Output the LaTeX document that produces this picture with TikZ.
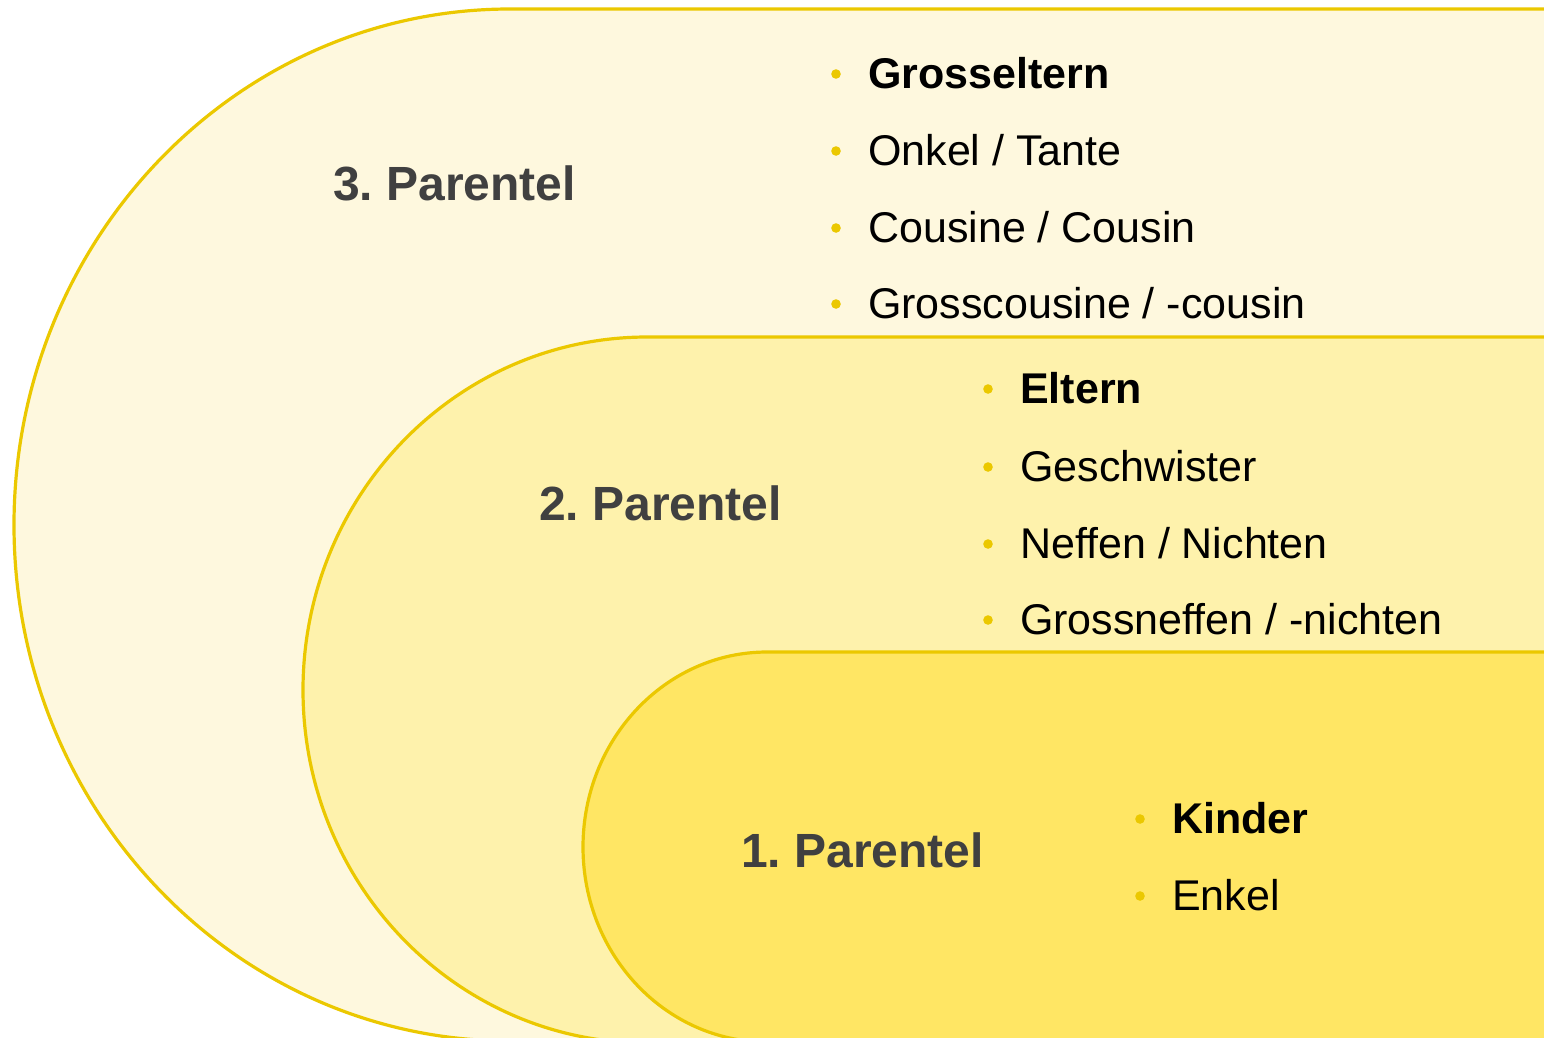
\documentclass[tikz,border=0pt]{standalone}
\usepackage{fontspec}
\setmainfont{Liberation Sans}
\frenchspacing
\definecolor{rim}{HTML}{EBC800}
\definecolor{fillc}{HTML}{FEF8DE}
\definecolor{fillb}{HTML}{FEF2AC}
\definecolor{filla}{HTML}{FFE664}
\definecolor{headgray}{HTML}{404040}
\tikzset{
  ring/.style = {draw=rim, line width=3.2pt},
  head/.style = {anchor=base west, inner sep=0pt, text=headgray, font=\fontsize{48}{54}\selectfont\bfseries},
  item/.style = {anchor=base west, inner sep=0pt, text=black, font=\fontsize{43}{50}\selectfont},
}

\begin{document}
\begin{tikzpicture}[x=1pt, y=1pt]
\useasboundingbox (0,0) rectangle (1544,-1037);
\clip (0,0) rectangle (1544,-1037);
% parentel rings
\draw[ring, fill=fillc] (1600,-9) -- (510,-9) arc[start angle=90, end angle=270, x radius=496, y radius=516] -- (1600,-1041) -- cycle;
\draw[ring, fill=fillb] (1600,-337) -- (647,-337) arc[start angle=90, end angle=270, x radius=344, y radius=353] -- (1600,-1043) -- cycle;
\draw[ring, fill=filla] (1600,-652) -- (767,-652) arc[start angle=90, end angle=270, x radius=184, y radius=195] -- (1600,-1042) -- cycle;
% headings
\node[head] (P3) at (333,-200) {3. Parentel};
\node[head] (P2) at (539,-520) {2. Parentel};
\node[head] (P1) at (741,-867) {1. Parentel};
% items
\node[item] (c1) at (868,-88)  {\bfseries Grosseltern};
\node[item] (c2) at (868,-165) {Onkel / Tante};
\node[item] (c3) at (868,-242) {Cousine / Cousin};
\node[item] (c4) at (868,-318) {Grosscousine / -cousin};
\node[item] (b1) at (1020,-403) {\bfseries Eltern};
\node[item] (b2) at (1020,-481) {Geschwister};
\node[item] (b3) at (1020,-558) {Neffen / Nichten};
\node[item] (b4) at (1020,-634) {Grossneffen / -nichten};
\node[item] (a1) at (1172,-833) {\bfseries Kinder};
\node[item] (a2) at (1172,-910) {Enkel};
% bullets
\foreach \n in {c1,c2,c3,c4,b1,b2,b3,b4,a1,a2}
  \fill[rim] ([shift={(-32,14)}]\n.base west) circle (4.8);
\end{tikzpicture}
\end{document}
